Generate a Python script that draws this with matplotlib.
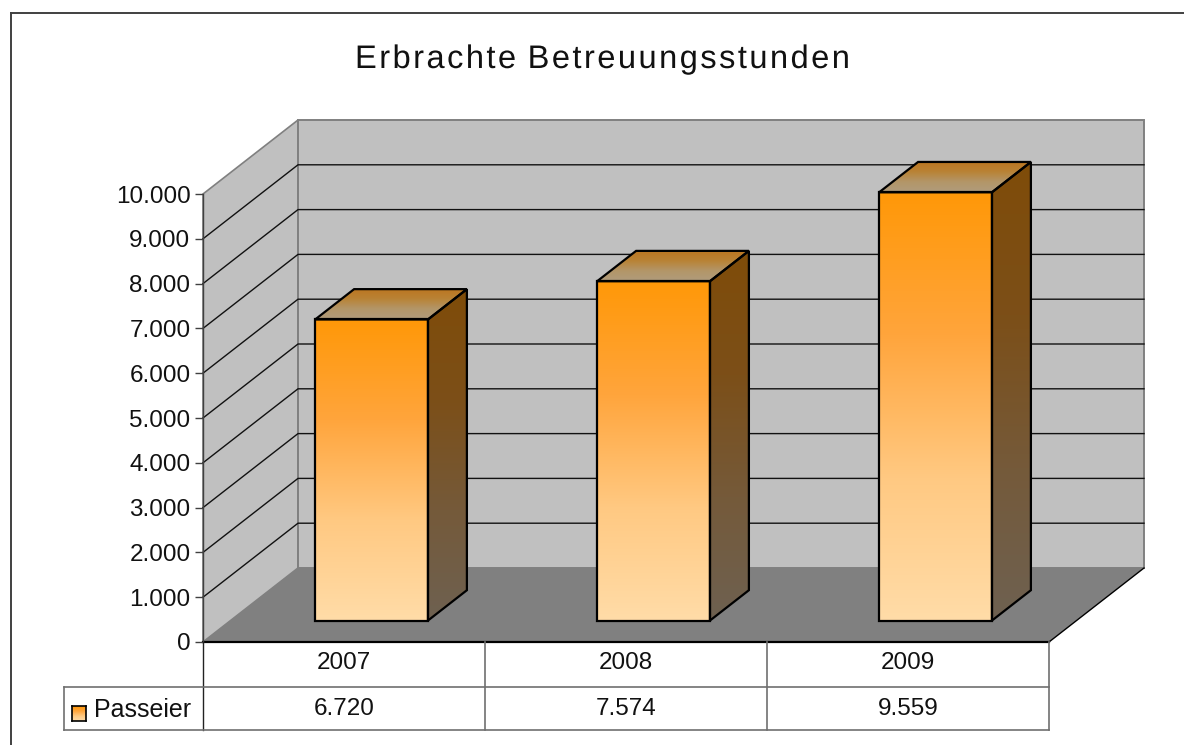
import numpy as np
import matplotlib
matplotlib.use("Agg")
import matplotlib.pyplot as plt
from matplotlib.colors import LinearSegmentedColormap
from matplotlib.patches import Polygon
from matplotlib.lines import Line2D
from matplotlib.path import Path
from matplotlib.patheffects import AbstractPathEffect
from matplotlib.transforms import IdentityTransform

plt.rcParams["font.family"] = ["Liberation Sans", "DejaVu Sans"]

TITLE = "Erbrachte Betreuungsstunden"
YEARS = ["2007", "2008", "2009"]
SERIES_NAME = "Passeier"
VALUES = [6720, 7574, 9559]
VALUE_LABELS = ["6.720", "7.574", "9.559"]
Y_TICKS = list(range(0, 11000, 1000))
Y_LABELS = ["0", "1.000", "2.000", "3.000", "4.000", "5.000", "6.000", "7.000", "8.000", "9.000", "10.000"]

W, H = 1184, 745
# front plane of the 3d box, pixels
LEFT, RIGHT, BOTTOM, TOP = 203, 1049, 642, 194
DEPTH_X, DEPTH_Y = 95, 74
BAR_WIDTH = 0.4
BAR_D0, BAR_D1 = 0.29, 0.70

FRONT_COLORS = ["#ffdca8", "#ffc982", "#ffa53c", "#ff9808"]
SIDE_COLORS = ["#6e6151", "#755a3a", "#7c4f18", "#7f4c09"]
TOP_COLORS = ["#b09c7c", "#b39668", "#b98234", "#bc7520"]


class LetterSpacing(AbstractPathEffect):
    # matplotlib has no letter spacing, so shift each glyph of the text path
    def __init__(self, spacing):
        super().__init__()
        self.spacing = spacing

    def draw_path(self, renderer, gc, tpath, affine, rgbFace=None):
        verts = affine.transform(tpath.vertices)
        codes = tpath.codes
        starts = list(np.where(codes == Path.MOVETO)[0]) + [len(codes)]
        glyph = -1
        right = -np.inf
        for a, b in zip(starts[:-1], starts[1:]):
            mask = codes[a:b] != Path.CLOSEPOLY
            xs = verts[a:b][mask, 0]
            # contours that overlap in x (e, a, b...) belong to one glyph
            if xs.min() >= right:
                glyph += 1
            right = max(right, xs.max())
            verts[a:b, 0] += glyph * self.spacing
        renderer.draw_path(gc, Path(verts, codes), IdentityTransform(), rgbFace)


fig = plt.figure(figsize=(W / 100, H / 100), dpi=100)
fig.patch.set_facecolor("white")
ax = fig.add_axes([LEFT / W, 1 - BOTTOM / H, (RIGHT - LEFT) / W, (BOTTOM - TOP) / H])
ax.set_xlim(0, len(YEARS))
ax.set_ylim(0, Y_TICKS[-1])
ax.patch.set_visible(False)
for spine in ax.spines.values():
    spine.set_visible(False)
ax.set_xticks([])
ax.set_yticks(Y_TICKS)
ax.set_yticklabels(Y_LABELS, fontsize=17.5)
ax.tick_params(axis="y", length=6, width=1, color="#404040", pad=3, labelcolor="#111111")

dx = DEPTH_X * len(YEARS) / (RIGHT - LEFT)
dy = DEPTH_Y * Y_TICKS[-1] / (BOTTOM - TOP)


def proj(x, y, d):
    return x + d * dx, y + d * dy


def gradient_poly(points, colors, zorder=3):
    # gradient image clipped to a polygon, outline on top
    pts = np.array(points)
    cmap = LinearSegmentedColormap.from_list("g", colors)
    grad = np.linspace(0, 1, 256).reshape(-1, 1)
    poly = Polygon(pts, closed=True, facecolor="none", edgecolor="black", lw=1.6, zorder=zorder + 0.1, clip_on=False, joinstyle="miter")
    ax.add_patch(poly)
    im = ax.imshow(grad, origin="lower", cmap=cmap, aspect="auto", zorder=zorder, interpolation="bilinear",
                   extent=(pts[:, 0].min(), pts[:, 0].max(), pts[:, 1].min(), pts[:, 1].max()))
    im.set_clip_box(fig.bbox)
    im.set_clip_path(poly)


top_val = Y_TICKS[-1]
n = len(YEARS)
# left wall, back wall, floor
ax.add_patch(Polygon([proj(0, 0, 0), proj(0, top_val, 0), proj(0, top_val, 1), proj(0, 0, 1)], closed=True,
                     facecolor="#c0c0c0", edgecolor="#808080", lw=1.2, clip_on=False, zorder=1))
ax.add_patch(Polygon([proj(0, 0, 1), proj(0, top_val, 1), proj(n, top_val, 1), proj(n, 0, 1)], closed=True,
                     facecolor="#c0c0c0", edgecolor="#808080", lw=1.4, clip_on=False, zorder=1))
ax.add_patch(Polygon([proj(0, 0, 0), proj(0, 0, 1), proj(n, 0, 1), proj(n, 0, 0)], closed=True,
                     facecolor="#808080", edgecolor="none", clip_on=False, zorder=1.2))
ax.add_line(Line2D(*zip(proj(n, 0, 0), proj(n, 0, 1)), color="black", lw=1, clip_on=False, zorder=1.3))
ax.add_line(Line2D(*zip(proj(0, 0, 0), proj(n, 0, 0)), color="black", lw=1.6, clip_on=False, zorder=1.3))
ax.add_line(Line2D([0, 0], [0, top_val], color="#404040", lw=1, clip_on=False, zorder=1.3))

# gridlines on the walls
for t in Y_TICKS[1:-1]:
    ax.add_line(Line2D(*zip(proj(0, t, 0), proj(0, t, 1), proj(n, t, 1)), color="#111111", lw=1, clip_on=False, zorder=1.1))

# bars
for i, v in enumerate(VALUES):
    x0 = i + 0.5 - BAR_WIDTH / 2
    x1 = i + 0.5 + BAR_WIDTH / 2
    gradient_poly([proj(x1, 0, BAR_D0), proj(x1, 0, BAR_D1), proj(x1, v, BAR_D1), proj(x1, v, BAR_D0)], SIDE_COLORS)
    gradient_poly([proj(x0, v, BAR_D0), proj(x0, v, BAR_D1), proj(x1, v, BAR_D1), proj(x1, v, BAR_D0)], TOP_COLORS)
    gradient_poly([proj(x0, 0, BAR_D0), proj(x0, v, BAR_D0), proj(x1, v, BAR_D0), proj(x1, 0, BAR_D0)], FRONT_COLORS)

ax.set_xlim(0, n)
ax.set_ylim(0, top_val)

# everything outside the plot goes in pixel coordinates on the figure
tr = fig.transFigure


def px(x, y):
    return x / W, 1 - y / H


def fline(x0, y0, x1, y1, color="#707070", lw=1.2):
    fig.add_artist(Line2D([x0 / W, x1 / W], [1 - y0 / H, 1 - y1 / H], color=color, lw=lw, transform=tr))


# outer frame, right and bottom edges are cut off in the source
fline(10.5, 12.5, W, 12.5, "#404040", 1.4)
fline(10.5, 12.5, 10.5, H, "#404040", 1.4)

# data table
ROW1, ROW2 = 687, 730
CELL = (RIGHT - LEFT) / n
fline(LEFT, BOTTOM, LEFT, ROW2, "#222222", 1)
for i in range(1, n + 1):
    fline(LEFT + i * CELL, BOTTOM, LEFT + i * CELL, ROW2)
fline(64, ROW1, RIGHT, ROW1)
fline(64, ROW2, RIGHT, ROW2)
fline(64, ROW1, 64, ROW2)
for i, (year, lab) in enumerate(zip(YEARS, VALUE_LABELS)):
    cx = LEFT + (i + 0.5) * CELL
    fig.text(*px(cx, 663), year, ha="center", va="center", fontsize=17.5, color="#111111")
    fig.text(*px(cx, 709), lab, ha="center", va="center", fontsize=17.5, color="#111111")
fig.text(*px(94, 710), SERIES_NAME, ha="left", va="center", fontsize=18, color="#111111")

# legend key
key_ax = fig.add_axes([72 / W, 1 - 721 / H, 14 / W, 15 / H])
key_ax.imshow(np.linspace(0, 1, 64).reshape(-1, 1), cmap=LinearSegmentedColormap.from_list("k", FRONT_COLORS[::-1]), aspect="auto")
key_ax.set_xticks([])
key_ax.set_yticks([])
for s in key_ax.spines.values():
    s.set_linewidth(1.2)

fig.text(*px(355, 68), TITLE, ha="left", va="baseline", fontsize=23.5, color="#111111",
         path_effects=[LetterSpacing(2.45)])

fig.savefig("out.png", dpi=100)
